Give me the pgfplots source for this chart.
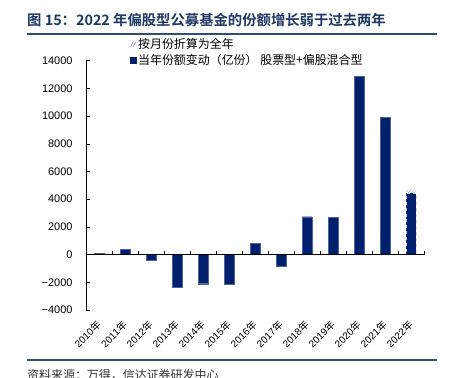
\documentclass[border=0pt]{standalone}
\usepackage{fontspec}
\usepackage{pgfplots}
\pgfplotsset{compat=1.18}
\usetikzlibrary{patterns}
\setmainfont{Liberation Sans}
\newfontfamily\cjk{Noto Sans CJK SC}
\newfontfamily\cjkb{Noto Sans CJK SC Bold}
\definecolor{navy}{HTML}{00206E}
\definecolor{titleblue}{HTML}{1F3864}
\definecolor{linecol}{HTML}{2F4B7C}
\begin{document}
\begin{tikzpicture}[x=1bp,y=1bp]
\path[use as bounding box] (0,0) rectangle (450,377);
\node[anchor=base west, font=\cjkb\fontsize{14.4}{15}\selectfont, text=titleblue, inner sep=0] at (27,352) {图 15：2022 年偏股型公募基金的份额增长弱于过去两年};
\draw[linecol, line width=2bp] (27,343.5) -- (437,343.5);
\draw[linecol, line width=1.5bp] (27,17) -- (437,17);
\node[anchor=base west, font=\cjk\fontsize{12}{13}\selectfont, text=black!80, inner sep=0] at (27,-2.5) {资料来源：万得，信达证券研发中心};
\begin{axis}[
  at={(86bp,67bp)}, anchor=south west,
  scale only axis, width=338bp, height=249.3bp,
  xmin=-0.5, xmax=12.5, ymin=-4000, ymax=14000,
  scaled y ticks=false,
  axis x line*=bottom, axis y line*=left,
  x axis line style={draw=none},
  y axis line style={line width=0.6bp},
  xtick={0,...,12},
  xticklabels={2010{\cjk 年},2011{\cjk 年},2012{\cjk 年},2013{\cjk 年},2014{\cjk 年},2015{\cjk 年},2016{\cjk 年},2017{\cjk 年},2018{\cjk 年},2019{\cjk 年},2020{\cjk 年},2021{\cjk 年},2022{\cjk 年}},
  x tick style={draw=none},
  x tick label style={yshift=-13bp, rotate=45, anchor=east, inner sep=0, font=\fontsize{10}{11}\selectfont},
  ytick={-4000,-2000,0,2000,4000,6000,8000,10000,12000,14000},
  yticklabels={−4000,−2000,0,2000,4000,6000,8000,10000,12000,14000},
  y tick style={line width=0.6bp, black},
  tick align=inside, major tick length=3.5bp,
  y tick label style={font=\fontsize{11}{12}\selectfont, xshift=-10bp},
  legend style={at={(axis description cs:0.13,1.095)}, anchor=north west, draw=none, fill=none,
    font=\cjk\fontsize{12}{13}\selectfont, row sep=1bp, inner sep=0,
    nodes={inner sep=1.5bp}},
  legend cell align=left,
  clip=false,
]
\addplot[ybar, bar width=10bp, bar shift=0, pattern=north east lines, pattern color=navy!45, draw=none,
  legend image code/.code={
    \draw[navy!45, line width=0.6bp] (0bp,-2.5bp) -- (2.5bp,2.5bp);
    \draw[navy!45, line width=0.6bp] (2.5bp,-2.5bp) -- (5bp,2.5bp);}]
  coordinates {(12,4650)};
\addlegendentry{按月份折算为全年}
\addplot[ybar, bar width=10bp, bar shift=0, fill=navy, draw=navy!70!white, line width=0.3bp,
  legend image code/.code={\fill[navy] (0bp,-3bp) rectangle (6bp,3bp);}]
  coordinates {(0,100) (1,400) (2,-420) (3,-2330) (4,-2100) (5,-2140) (6,810) (7,-860) (8,2740) (9,2670) (10,12860) (11,9930)};
\addlegendentry{当年份额变动（亿份） 股票型+偏股混合型}
\addplot[ybar, bar width=10bp, bar shift=0, fill=navy, draw=white!80!navy, dashed, line width=0.4bp, forget plot]
  coordinates {(12,4430)};
\draw[black, line width=0.6bp] (axis cs:-0.5,0) -- (axis cs:12.5,0);
\pgfplotsinvokeforeach{0.5,1.5,2.5,3.5,4.5,5.5,6.5,7.5,8.5,9.5,10.5,11.5,12.5}{
  \draw[black, line width=0.6bp] (axis cs:#1,0) -- (axis cs:#1,250);
}
\end{axis}
\end{tikzpicture}
\end{document}
